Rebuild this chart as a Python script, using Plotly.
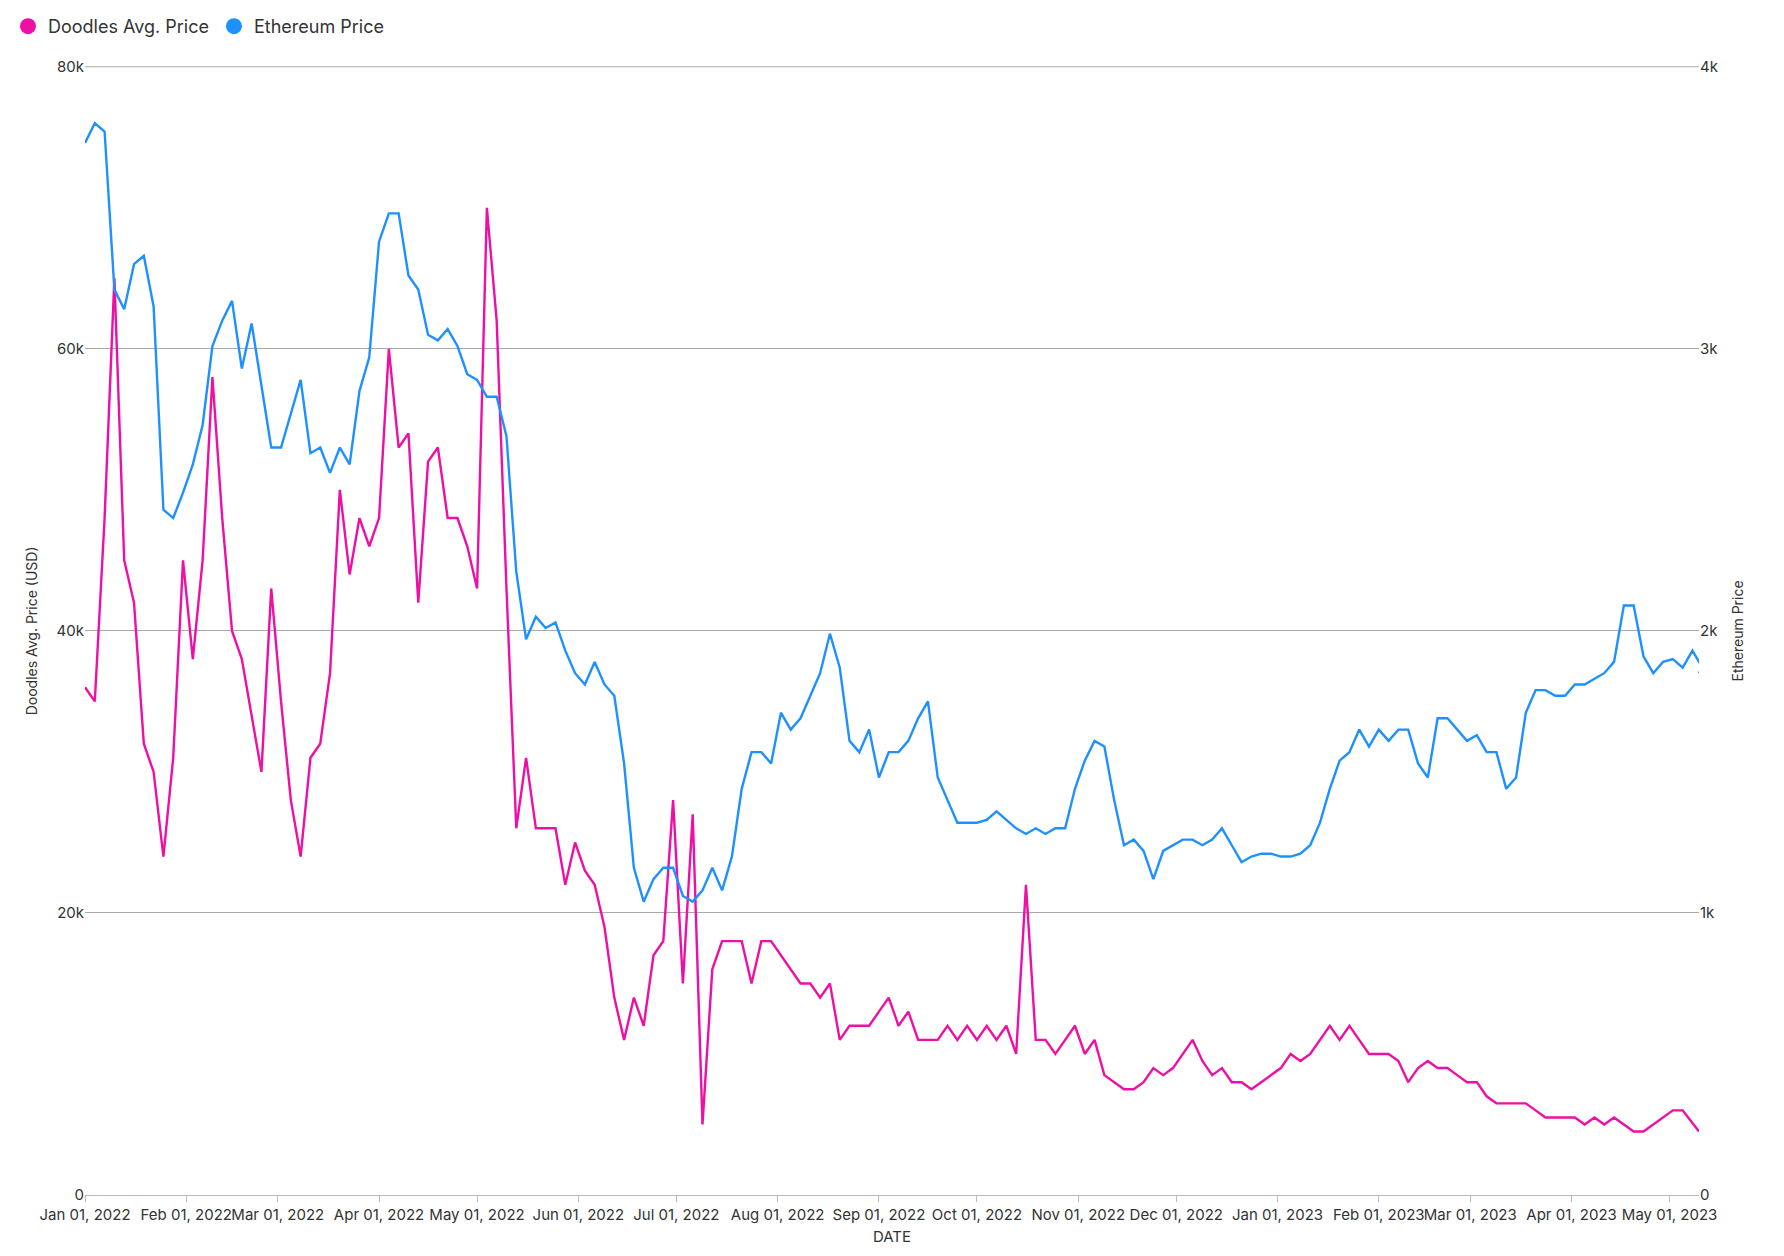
import plotly.graph_objects as go
import pandas as pd

eth = [3730,3800,3770,3210,3140,3300,3330,3150,2430,2400,2490,2590,2730,3010,3100,3170,2930,3090,2870,2650,2650,2770,2890,2630,2650,2560,2650,2590,2850,2970,3380,3480,3480,3260,3210,3050,3030,3070,3010,2910,2890,2830,2830,2690,2210,1970,2050,2010,2030,1930,1850,1810,1890,1810,1770,1530,1160,1040,1120,1160,1160,1060,1040,1080,1160,1080,1200,1440,1570,1570,1530,1710,1650,1690,1770,1850,1990,1870,1610,1570,1650,1480,1570,1570,1610,1690,1750,1480,1400,1320,1320,1320,1330,1360,1330,1300,1280,1300,1280,1300,1300,1440,1540,1610,1590,1400,1240,1260,1220,1120,1220,1240,1260,1260,1240,1260,1300,1240,1180,1200,1210,1210,1200,1200,1210,1240,1320,1440,1540,1570,1650,1590,1650,1610,1650,1650,1530,1480,1690,1690,1650,1610,1630,1570,1570,1440,1480,1710,1790,1790,1770,1770,1810,1810,1830,1850,1890,2090,2090,1910,1850,1890,1900,1870,1930,1870,1850]
doodles = [36,35,48,65,45,42,32,30,24,31,45,38,45,58,48,40,38,34,30,43,35,28,24,31,32,37,50,44,48,46,48,60,53,54,42,52,53,48,48,46,43,70,62,43,26,31,26,26,26,22,25,23,22,19,14,11,14,12,17,18,28,15,27,5,16,18,18,18,15,18,18,17,16,15,15,14,15,11,12,12,12,13,14,12,13,11,11,11,12,11,12,11,12,11,12,10,22,11,11,10,11,12,10,11,8.5,8,7.5,7.5,8,9,8.5,9,10,11,9.5,8.5,9,8,8,7.5,8,8.5,9,10,9.5,10,11,12,11,12,11,10,10,10,9.5,8,9,9.5,9,9,8.5,8,8,7,6.5,6.5,6.5,6.5,6,5.5,5.5,5.5,5.5,5,5.5,5,5.5,5,4.5,4.5,5,5.5,6,6,4.5]
doodles = [v*1000 for v in doodles]

def dates(n):
    d = list(pd.date_range("2022-01-01", periods=n-1, freq="3D"))
    d.append(pd.Timestamp("2023-05-10"))
    return d

PINK, BLUE = "#ee0fa5", "#1e90ff"
fig = go.Figure()
fig.add_trace(go.Scatter(x=dates(len(doodles)), y=doodles, name="Doodles Avg. Price", mode="lines",
                         line=dict(color=PINK, width=2.4), showlegend=False))
fig.add_trace(go.Scatter(x=dates(len(eth)), y=eth, name="Ethereum Price", mode="lines", yaxis="y2",
                         line=dict(color=BLUE, width=2.4), showlegend=False))
for nm, c in [("Doodles Avg. Price", PINK), ("Ethereum Price", BLUE)]:
    fig.add_trace(go.Scatter(x=[None], y=[None], mode="markers", name=nm,
                             marker=dict(color=c, size=24, symbol="circle")))
fig.add_shape(type="line", xref="paper", yref="paper", x0=0, x1=1, y0=1, y1=1, line=dict(color="#aaa", width=1))
fig.update_layout(
    width=1784, height=1256, template="plotly_white", paper_bgcolor="white", plot_bgcolor="white",
    font=dict(family="Inter", size=15, color="#333"),
    margin=dict(l=77, r=93, t=55, b=69),
    legend=dict(orientation="h", x=0.0, y=1.0, xref="container", yref="container", yanchor="top",
                font=dict(size=18), itemsizing="trace", itemwidth=30),
    xaxis=dict(title=dict(text="DATE", standoff=8, font=dict(size=15)), tickformat="%b %d, %Y", dtick="M1", tick0="2022-01-01",
               tickangle=0, tickfont=dict(size=15),
               range=["2022-01-01", "2023-05-10"], showgrid=False, showline=True, linecolor="#bbb",
               ticks="outside", tickcolor="#bbb", ticklen=6),
    yaxis=dict(title=dict(text="Doodles Avg. Price (USD)", font=dict(size=14)), range=[0, 80000], dtick=20000, tickformat="~s",
               gridcolor="#aaa", zeroline=False, tickfont=dict(size=15)),
    yaxis2=dict(title=dict(text="Ethereum Price", font=dict(size=14)), overlaying="y", side="right", range=[0, 4000], dtick=1000,
                tickformat="~s", showgrid=False, zeroline=False, tickfont=dict(size=15)),
)
fig.write_html("out.html")
